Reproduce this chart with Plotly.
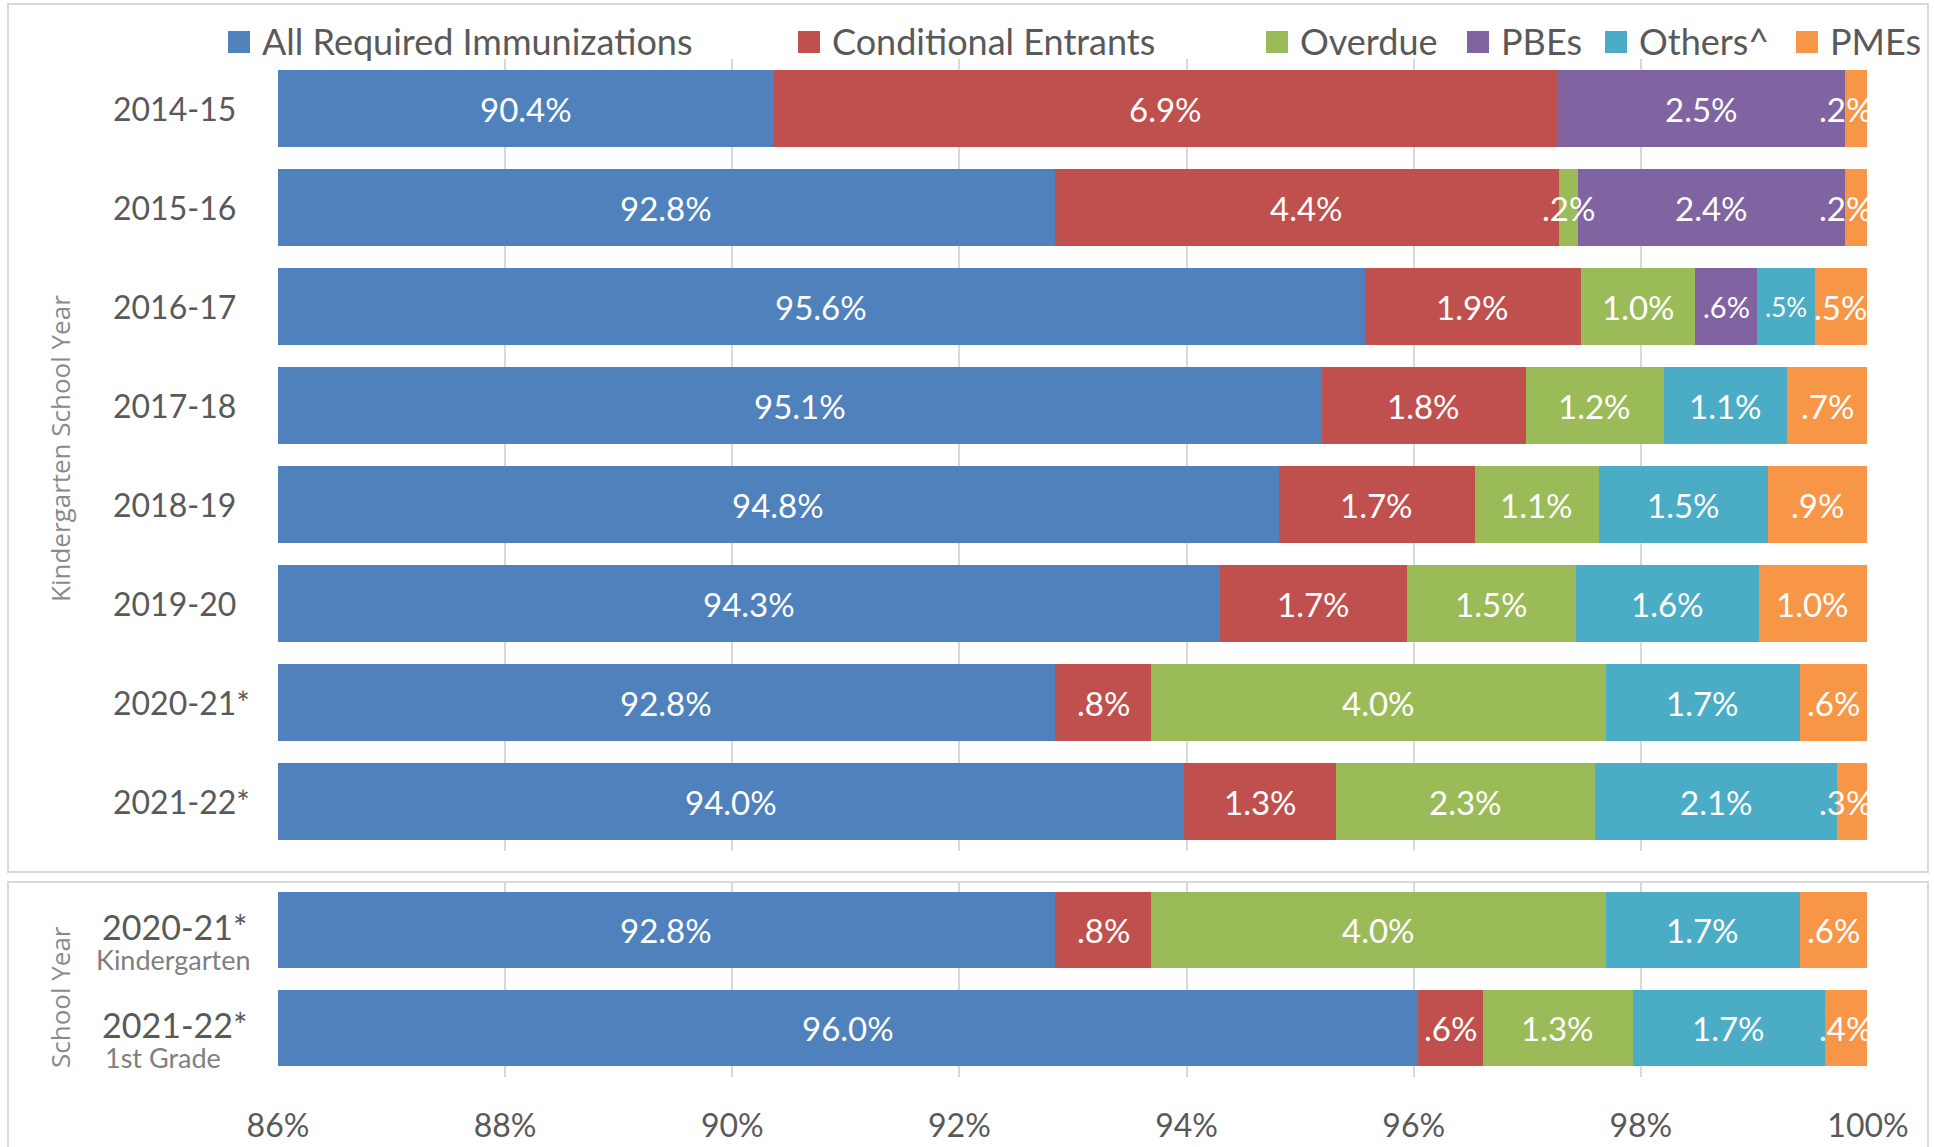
import plotly.graph_objects as go

# ---------------- data ----------------
years_top = ["2014-15", "2015-16", "2016-17", "2017-18", "2018-19", "2019-20", "2020-21*", "2021-22*"]
all_req_top = [90.37, 92.84, 95.57, 95.19, 94.81, 94.29, 92.84, 93.98]
cond_top = [6.89, 4.44, 1.90, 1.80, 1.73, 1.65, 0.85, 1.34]
overdue_top = [0.00, 0.17, 1.01, 1.21, 1.09, 1.49, 4.00, 2.28]
pbe_top = [2.54, 2.35, 0.54, 0.00, 0.00, 0.00, 0.00, 0.00]
others_top = [0.00, 0.00, 0.51, 1.09, 1.49, 1.61, 1.71, 2.13]
pme_top = [0.19, 0.19, 0.46, 0.70, 0.87, 0.95, 0.59, 0.26]

# printed data labels (top panel)
all_req_top_lbl = ["90.4%", "92.8%", "95.6%", "95.1%", "94.8%", "94.3%", "92.8%", "94.0%"]
cond_top_lbl = ["6.9%", "4.4%", "1.9%", "1.8%", "1.7%", "1.7%", ".8%", "1.3%"]
overdue_top_lbl = ["", ".2%", "1.0%", "1.2%", "1.1%", "1.5%", "4.0%", "2.3%"]
pbe_top_lbl = ["2.5%", "2.4%", ".6%", "", "", "", "", ""]
others_top_lbl = ["", "", ".5%", "1.1%", "1.5%", "1.6%", "1.7%", "2.1%"]
pme_top_lbl = [".2%", ".2%", ".5%", ".7%", ".9%", "1.0%", ".6%", ".3%"]

years_bot = ["2020-21*", "2021-22*"]
grades_bot = ["Kindergarten", "1st Grade"]
all_req_bot = [92.84, 96.04]
cond_bot = [0.85, 0.57]
overdue_bot = [4.00, 1.32]
pbe_bot = [0.00, 0.00]
others_bot = [1.71, 1.69]
pme_bot = [0.59, 0.37]

all_req_bot_lbl = ["92.8%", "96.0%"]
cond_bot_lbl = [".8%", ".6%"]
overdue_bot_lbl = ["4.0%", "1.3%"]
pbe_bot_lbl = ["", ""]
others_bot_lbl = ["1.7%", "1.7%"]
pme_bot_lbl = [".6%", ".4%"]

series_names = ["All Required Immunizations", "Conditional Entrants", "Overdue", "PBEs", "Others^", "PMEs"]
colors = ["#4F81BD", "#C0504D", "#9BBB59", "#8064A2", "#4BACC6", "#F79646"]
x_ticks = [86, 88, 90, 92, 94, 96, 98, 100]
x_tick_labels = ["86%", "88%", "90%", "92%", "94%", "96%", "98%", "100%"]
x_range = [86, 100]

# ---------------- geometry helpers ----------------
W, H = 1934, 1147
ML, MR, MT, MB = 278, 66, 59, 70
PW, PH = W - ML - MR, H - MT - MB


def px(xp):
    return (xp - ML) / PW


def py(yp):
    return (H - MB - yp) / PH


def label_centers(series_list):
    """Centre of the visible part of each stacked segment (data units)."""
    n = len(series_list[0])
    cum = [0.0] * n
    out = []
    for s in series_list:
        mids = []
        for j in range(n):
            lo = max(cum[j], x_range[0])
            hi = cum[j] + s[j]
            mids.append(min((lo + hi) / 2, x_range[1] - 0.2))
            cum[j] = hi
        out.append(mids)
    return out


FONT = "Lato"
GRAY = "#595959"
LABEL_SIZE = 33

top_series = [all_req_top, cond_top, overdue_top, pbe_top, others_top, pme_top]
top_labels = [all_req_top_lbl, cond_top_lbl, overdue_top_lbl, pbe_top_lbl, others_top_lbl, pme_top_lbl]
bot_series = [all_req_bot, cond_bot, overdue_bot, pbe_bot, others_bot, pme_bot]
bot_labels = [all_req_bot_lbl, cond_bot_lbl, overdue_bot_lbl, pbe_bot_lbl, others_bot_lbl, pme_bot_lbl]

fig = go.Figure()

# stacked bars
for i, name in enumerate(series_names):
    fig.add_trace(go.Bar(
        name=name, orientation="h", y=years_top, x=top_series[i],
        xaxis="x2", yaxis="y2",
        marker=dict(color=colors[i], line=dict(width=0)),
        showlegend=False, hoverinfo="skip",
    ))
    fig.add_trace(go.Bar(
        name=name, orientation="h", y=years_bot, x=bot_series[i],
        xaxis="x", yaxis="y",
        marker=dict(color=colors[i], line=dict(width=0)),
        showlegend=False, hoverinfo="skip",
    ))

annotations = []
shapes = []

# data labels, placed at the centre of each visible segment (above all bars)
top_mids = label_centers(top_series)
bot_mids = label_centers(bot_series)
for i, name in enumerate(series_names):
    for j, yr in enumerate(years_top):
        if not top_labels[i][j]:
            continue
        size = LABEL_SIZE
        if name == "Others^" and j == 2:
            size = 26
        if name == "PBEs" and j == 2:
            size = 29
        annotations.append(dict(text=top_labels[i][j], x=top_mids[i][j], y=yr,
                                xref="x2", yref="y2", xanchor="center", yanchor="middle",
                                showarrow=False,
                                font=dict(family=FONT, size=size, color="white")))
    for j, yr in enumerate(years_bot):
        if not bot_labels[i][j]:
            continue
        annotations.append(dict(text=bot_labels[i][j], x=bot_mids[i][j], y=yr,
                                xref="x", yref="y", xanchor="center", yanchor="middle",
                                showarrow=False,
                                font=dict(family=FONT, size=LABEL_SIZE, color="white")))

# y category labels (top panel, left aligned)
for yr in years_top:
    annotations.append(dict(text=yr, x=px(111), xref="paper", xanchor="left",
                            y=yr, yref="y2", yanchor="middle", showarrow=False,
                            font=dict(family=FONT, size=32, color=GRAY)))
# bottom panel labels
grade_centres = {"Kindergarten": 173, "1st Grade": 163}
for yr, gr in zip(years_bot, grades_bot):
    annotations.append(dict(text=yr, x=px(100), xref="paper", xanchor="left",
                            y=yr, yref="y", yanchor="middle", yshift=4, showarrow=False,
                            font=dict(family=FONT, size=34, color=GRAY)))
    annotations.append(dict(text=gr, x=px(grade_centres[gr]), xref="paper", xanchor="center",
                            y=yr, yref="y", yanchor="middle", yshift=-29, showarrow=False,
                            font=dict(family=FONT, size=27, color="#7F7F7F")))

# axis titles
annotations.append(dict(text="Kindergarten School Year", x=px(60), xref="paper", xanchor="center",
                        y=py(449), yref="paper", yanchor="middle", textangle=-90, showarrow=False,
                        font=dict(family="Open Sans", size=26, color="#8A8A8A")))
annotations.append(dict(text="School Year", x=px(60), xref="paper", xanchor="center",
                        y=py(997), yref="paper", yanchor="middle", textangle=-90, showarrow=False,
                        font=dict(family="Open Sans", size=26, color="#8A8A8A")))

# legend (drawn as squares + texts to match the reference spacing)
legend_left = [228, 798, 1266, 1467, 1605, 1796]
for name, col, lx in zip(series_names, colors, legend_left):
    shapes.append(dict(type="rect", xref="paper", yref="paper",
                       x0=px(lx), x1=px(lx + 22), y0=py(53), y1=py(31),
                       fillcolor=col, line=dict(width=0)))
    annotations.append(dict(text=name, x=px(lx + 32), xref="paper", xanchor="left",
                            y=py(41), yref="paper", yanchor="middle", showarrow=False,
                            font=dict(family=FONT, size=36, color=GRAY)))

# panel borders
shapes.append(dict(type="rect", xref="paper", yref="paper",
                   x0=px(8), x1=px(1928), y0=py(872), y1=py(4),
                   line=dict(color="#D9D9D9", width=2), fillcolor="rgba(0,0,0,0)", layer="below"))
shapes.append(dict(type="rect", xref="paper", yref="paper",
                   x0=px(8), x1=px(1928), y0=py(1160), y1=py(882),
                   line=dict(color="#D9D9D9", width=2), fillcolor="rgba(0,0,0,0)", layer="below"))

axis_common = dict(range=x_range, tickvals=x_ticks, ticktext=x_tick_labels,
                   showgrid=True, gridcolor="#D9D9D9", gridwidth=2, automargin=False,
                   zeroline=False, showline=False, ticks="", fixedrange=True)

fig.update_layout(
    width=W, height=H, autosize=False,
    margin=dict(l=ML, r=MR, t=MT, b=MB, pad=0, autoexpand=False),
    paper_bgcolor="white", plot_bgcolor="white",
    barmode="stack", bargap=0.22,
    showlegend=False,
    font=dict(family=FONT, color=GRAY),
    xaxis=dict(domain=[0, 1], anchor="y",
               tickfont=dict(family=FONT, size=32, color=GRAY), ticklabelstandoff=27,
               **axis_common),
    xaxis2=dict(domain=[0, 1], anchor="y2", matches="x", showticklabels=False, **axis_common),
    yaxis=dict(domain=[0, py(881)], categoryorder="array", categoryarray=years_bot,
               autorange="reversed", showticklabels=False, showgrid=False, zeroline=False,
               fixedrange=True, automargin=False),
    yaxis2=dict(domain=[py(851), 1], categoryorder="array", categoryarray=years_top,
                autorange="reversed", showticklabels=False, showgrid=False, zeroline=False,
                fixedrange=True, automargin=False),
    annotations=annotations,
    shapes=shapes,
)

fig.write_html("out.html", config={"displayModeBar": False},
               post_script="document.body.style.margin='0';document.body.style.overflow='hidden';")
